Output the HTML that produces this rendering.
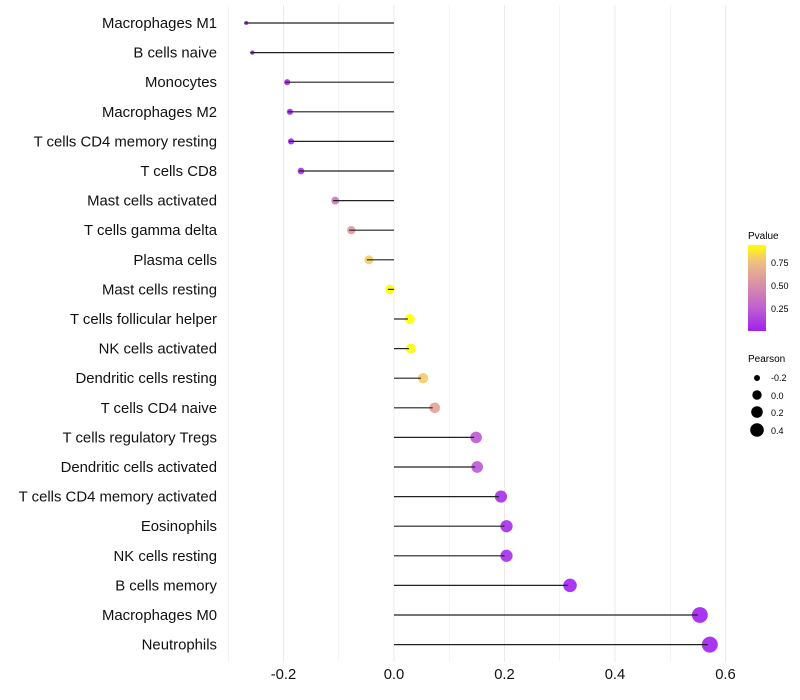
<!DOCTYPE html>
<html><head><meta charset="utf-8"><style>
body{margin:0;background:#fff;}
svg{display:block;font-family:"Liberation Sans",sans-serif;}
</style></head><body>
<svg id="chart" width="800" height="700">
<defs><linearGradient id="pg" x1="0" y1="1" x2="0" y2="0">
<stop offset="0" stop-color="#A020F0"/><stop offset="0.27" stop-color="#C060D0"/><stop offset="0.54" stop-color="#D890A8"/><stop offset="0.81" stop-color="#F0C080"/><stop offset="1" stop-color="#FFFF00"/>
</linearGradient></defs>
<g id="grid"></g>
<g id="marks"></g>
<g id="ylab"></g>
<g id="xlab"></g>
<g>
<text x="748" y="239" font-size="10">Pvalue</text>
<rect x="748" y="245" width="18" height="86" fill="url(#pg)"/>
<text x="771" y="266" font-size="9">0.75</text>
<text x="771" y="289" font-size="9">0.50</text>
<text x="771" y="312" font-size="9">0.25</text>
</g>
<g>
<text x="748" y="362" font-size="10">Pearson</text>
<circle cx="757" cy="378" r="3"/><text x="771" y="381" font-size="9">-0.2</text>
<circle cx="757" cy="395" r="4.7"/><text x="771" y="399" font-size="9">0.0</text>
<circle cx="757" cy="412" r="5.8"/><text x="771" y="416" font-size="9">0.2</text>
<circle cx="757" cy="430" r="6.8"/><text x="771" y="434" font-size="9">0.4</text>
</g>
</svg>
<script>
const cells=["Macrophages M1","B cells naive","Monocytes","Macrophages M2","T cells CD4 memory resting","T cells CD8","Mast cells activated","T cells gamma delta","Plasma cells","Mast cells resting","T cells follicular helper","NK cells activated","Dendritic cells resting","T cells CD4 naive","T cells regulatory  Tregs ","Dendritic cells activated","T cells CD4 memory activated","Eosinophils","NK cells resting","B cells memory","Macrophages M0","Neutrophils"];
const pearson=[-0.271,-0.26,-0.197,-0.192,-0.19,-0.172,-0.11,-0.081,-0.049,-0.011,0.025,0.027,0.049,0.07,0.145,0.147,0.19,0.2,0.2,0.315,0.55,0.568];
const pvalue=[0.0,0.0,0.03,0.03,0.03,0.06,0.38,0.55,0.78,0.98,0.92,0.9,0.78,0.6,0.22,0.22,0.05,0.05,0.05,0.01,0.0,0.0];
const xticks=[-0.2,0.0,0.2,0.4,0.6];
const NS="http://www.w3.org/2000/svg";
const x=v=>394+v*552.5;
const y=i=>23+i*29.6;
const stops=[[0,[160,32,240]],[0.25,[192,96,208]],[0.5,[216,144,168]],[0.75,[240,192,128]],[0.92,[255,255,0]]];
function col(p){p=Math.min(0.92,Math.max(0,p));for(let k=0;k<stops.length-1;k++){const[a,ca]=stops[k],[b,cb]=stops[k+1];if(p<=b){const t=(p-a)/(b-a);return "rgb("+ca.map((c,j)=>Math.round(c+(cb[j]-c)*t)).join(",")+")";}}return "rgb(255,255,0)";}
const rad=v=>Math.sqrt(Math.max(1,23.3+71.4*v));
function mk(tag,at,par){const e=document.createElementNS(NS,tag);for(const k in at)e.setAttribute(k,at[k]);par.appendChild(e);return e;}
const grid=document.getElementById('grid'),marks=document.getElementById('marks'),ylab=document.getElementById('ylab'),xlab=document.getElementById('xlab');
for(let v=-0.3;v<=0.65;v+=0.1){const g=mk('line',{x1:x(v),x2:x(v),y1:5,y2:662,stroke:'#ebebeb','stroke-width':Math.abs(Math.round(v*10))%2==0?1:0.6},grid);

}
xticks.forEach(t=>{const e=mk('text',{x:x(t),y:679,'font-size':14.8,'text-anchor':'middle',fill:'#111'},xlab);e.textContent=t.toFixed(1);

});
cells.forEach((c,i)=>{
const t=mk('text',{x:217,y:y(i)+5,'font-size':14.9,'text-anchor':'end',fill:'#111','xml:space':'preserve'},ylab);t.textContent=c;


const p=mk('circle',{cx:x(pearson[i])+2,cy:y(i),r:rad(pearson[i]),fill:col(pvalue[i]),'fill-opacity':0.9},marks);


const l=mk('line',{x1:x(0),x2:x(pearson[i]),y1:y(i),y2:y(i),stroke:'#222','stroke-width':1.2},marks);


});
</script>
</body></html>
